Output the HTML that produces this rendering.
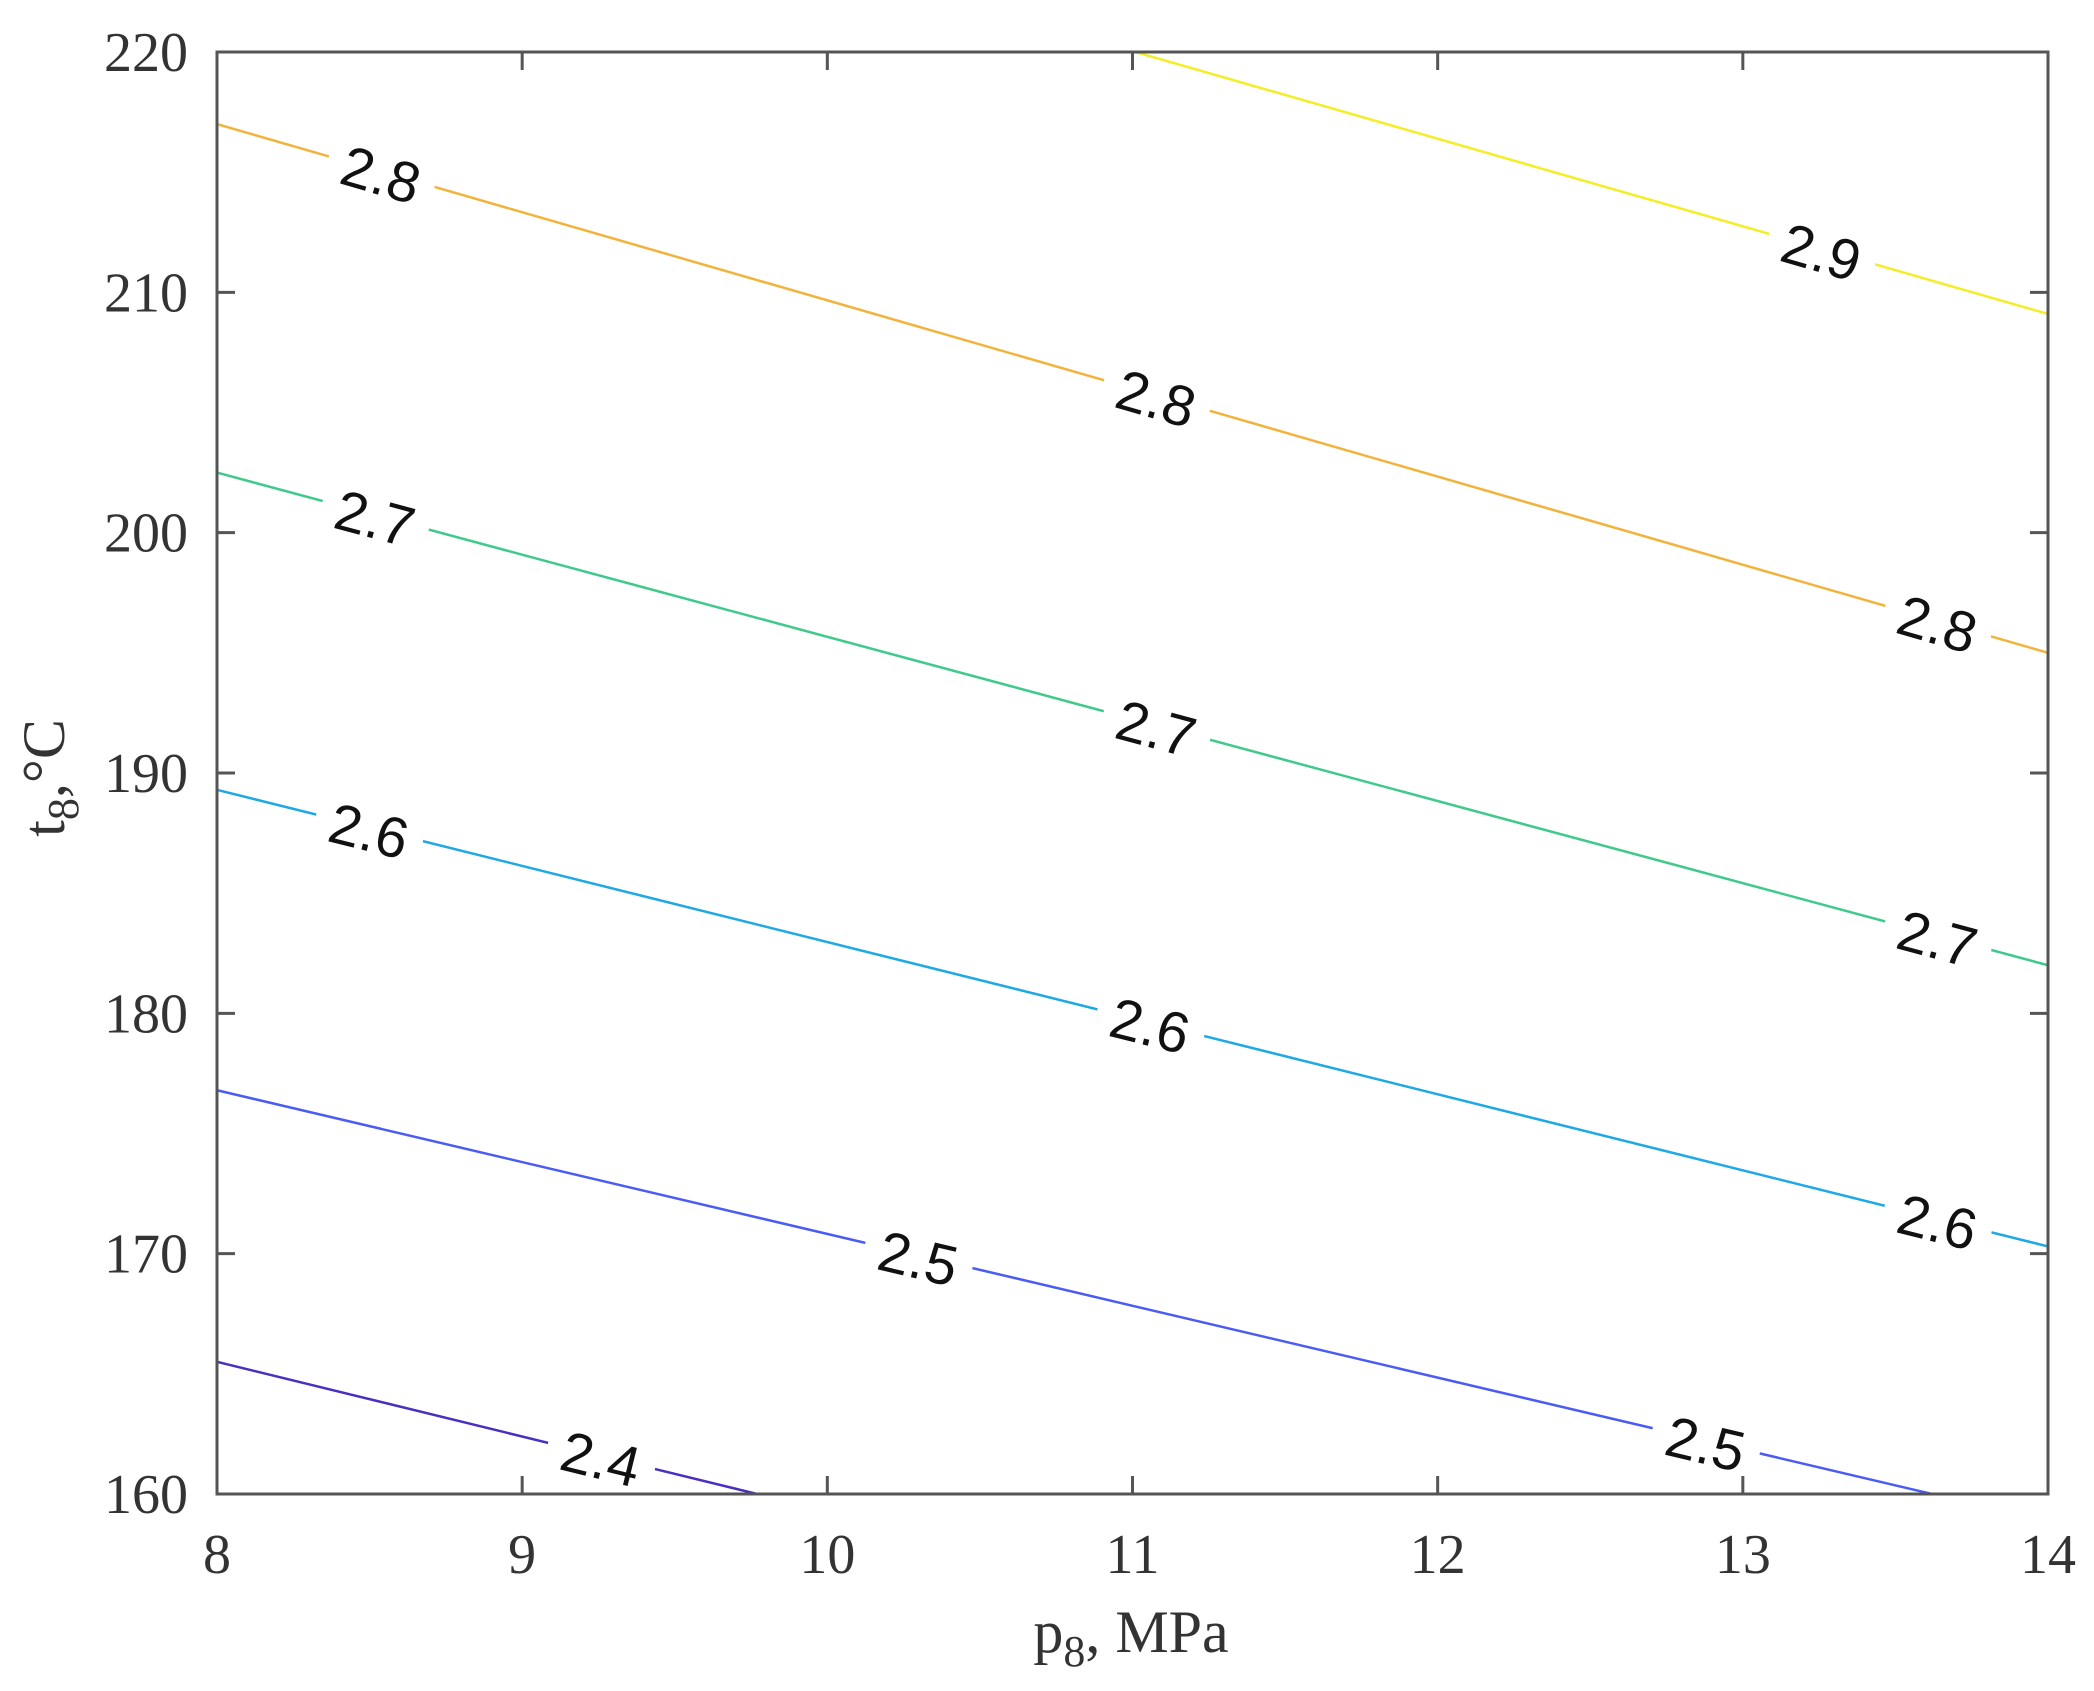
<!DOCTYPE html>
<html><head><meta charset="utf-8"><style>
html,body{margin:0;padding:0;background:#fff;}
svg{display:block;}
</style></head><body>
<svg id="chart" width="2094" height="1691" viewBox="0 0 2094 1691" xmlns="http://www.w3.org/2000/svg">
<g id="lines"></g>
<g id="labels"></g>
<g id="axes"></g>
<text x="1131" y="1652" text-anchor="middle" font-family="Liberation Serif, serif" font-size="60" fill="#333">p<tspan font-size="44" dy="14">8</tspan><tspan dy="-14">, MPa</tspan></text>
<text transform="translate(64,778) rotate(-90)" text-anchor="middle" font-family="Liberation Serif, serif" font-size="60" fill="#333">t<tspan font-size="44" dy="14">8</tspan><tspan dy="-14">,°C</tspan></text>
</svg>
<script>
const xTicks=[8,9,10,11,12,13,14];
const yTicks=[160,170,180,190,200,210,220];
const levels=[2.4,2.5,2.6,2.7,2.8,2.9];
const colors=['#4a2fc0','#4b5cf3','#1ea9e5','#3fca8c','#f2b33c','#f3ee27'];
// line endpoints in data units
const lineP0=[8,8,8,8,8,11.01];
const lineT0=[165.5,176.8,189.3,202.5,217.0,220];
const lineP1=[9.77,13.62,14,14,14,14];
const lineT1=[160,160,170.3,182.0,195.0,209.1];
// label positions (p) per level
const labelP=[[9.26],[10.3,12.88],[8.5,11.06,13.64],[8.52,11.08,13.64],[8.54,11.08,13.64],[13.26]];
const X0=217,X1=2048,Y0=1494,Y1=52;
const xs=p=>X0+(p-8)/6*(X1-X0);
const ys=t=>Y0-(t-160)/60*(Y0-Y1);
const NS='http://www.w3.org/2000/svg';
const mk=(tag,attrs,parent)=>{const e=document.createElementNS(NS,tag);for(const k in attrs)e.setAttribute(k,attrs[k]);parent.appendChild(e);return e;};
const gl=document.getElementById('lines'),gb=document.getElementById('labels'),ga=document.getElementById('axes');
levels.forEach((lv,i)=>{
  const x0=xs(lineP0[i]),y0=ys(lineT0[i]),x1=xs(lineP1[i]),y1=ys(lineT1[i]);
  const l=mk('line',{x1:x0,y1:y0,x2:x1,y2:y1,stroke:colors[i],'stroke-width':2.5},gl);
  
  
  const ang=Math.atan2(y1-y0,x1-x0)*180/Math.PI;
  labelP[i].forEach(p=>{
    const f=(p-lineP0[i])/(lineP1[i]-lineP0[i]);
    const cx=x0+f*(x1-x0),cy=y0+f*(y1-y0);
    const g=mk('g',{transform:`translate(${cx},${cy}) rotate(${ang})`},gb);
    
    
    mk('rect',{x:-55,y:-30,width:110,height:60,fill:'#fff'},g);
    const t=mk('text',{x:0,y:23,'text-anchor':'middle','font-family':'Liberation Sans, sans-serif','font-size':57,fill:'#111'},g);
    t.textContent=lv.toFixed(1);
  });
});
const frame=mk('rect',{x:X0,y:Y1,width:X1-X0,height:Y0-Y1,fill:'none',stroke:'#555','stroke-width':3},ga);


xTicks.forEach(v=>{
  const x=xs(v);
  mk('line',{x1:x,y1:Y0,x2:x,y2:Y0-18,stroke:'#555','stroke-width':3},ga);
  mk('line',{x1:x,y1:Y1,x2:x,y2:Y1+18,stroke:'#555','stroke-width':3},ga);
  const t=mk('text',{x:x,y:1573,'text-anchor':'middle','font-family':'Liberation Serif, serif','font-size':56,fill:'#333'},ga);
  
  
  t.textContent=v;
});
yTicks.forEach(v=>{
  const y=ys(v);
  mk('line',{x1:X0,y1:y,x2:X0+18,y2:y,stroke:'#555','stroke-width':3},ga);
  mk('line',{x1:X1,y1:y,x2:X1-18,y2:y,stroke:'#555','stroke-width':3},ga);
  const t=mk('text',{x:188,y:y+19,'text-anchor':'end','font-family':'Liberation Serif, serif','font-size':56,fill:'#333'},ga);
  
  
  t.textContent=v;
});
</script>
</body></html>
